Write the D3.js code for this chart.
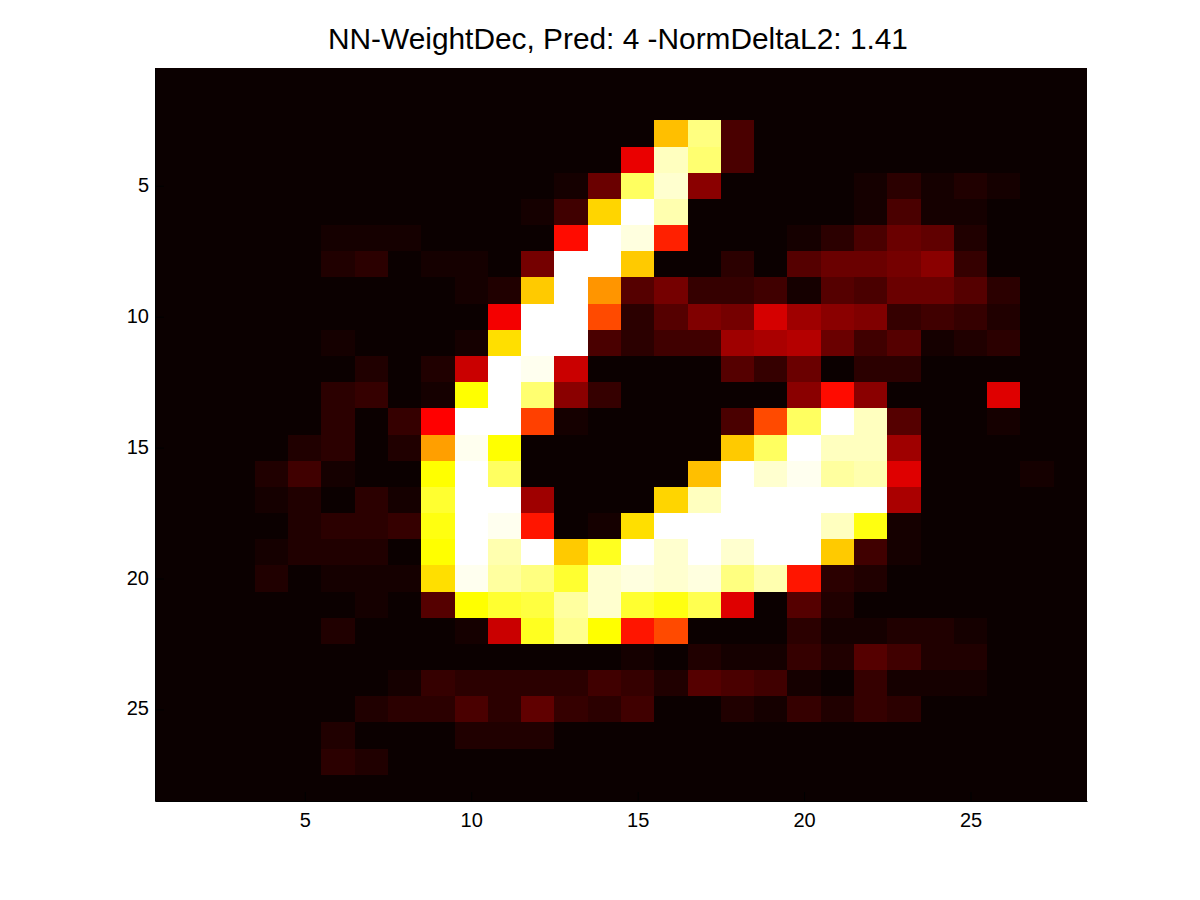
<!DOCTYPE html>
<html>
<head>
<meta charset="utf-8">
<script src="https://d3js.org/d3.v7.min.js"></script>
<style>
	html, body { margin: 0; padding: 0; background: #fff; }
	svg { display: block; }
</style>
</head>
<body>
<div id="heatmap"></div>
<script>
const titleText = "NN-WeightDec, Pred: 4 -NormDeltaL2: 1.41";
const xTicks = [5, 10, 15, 20, 25];
const yTicks = [5, 10, 15, 20, 25];

// colormap level (0-63) of each cell, one array per row
const levels = [
	[0,0,0,0,0,0,0,0,0,0,0,0,0,0,0,0,0,0,0,0,0,0,0,0,0,0,0,0],
	[0,0,0,0,0,0,0,0,0,0,0,0,0,0,0,0,0,0,0,0,0,0,0,0,0,0,0,0],
	[0,0,0,0,0,0,0,0,0,0,0,0,0,0,0,41,55,6,0,0,0,0,0,0,0,0,0,0],
	[0,0,0,0,0,0,0,0,0,0,0,0,0,0,21,59,54,6,0,0,0,0,0,0,0,0,0,0],
	[0,0,0,0,0,0,0,0,0,0,0,0,1,9,53,60,12,0,0,0,0,1,3,1,2,1,0,0],
	[0,0,0,0,0,0,0,0,0,0,0,1,5,43,63,58,0,0,0,0,0,1,6,1,1,0,0,0],
	[0,0,0,0,0,1,1,1,0,0,0,0,24,63,61,26,0,0,0,1,3,6,9,8,2,0,0,0],
	[0,0,0,0,0,2,3,0,1,1,0,10,63,63,42,0,0,3,0,7,9,9,10,12,4,0,0,0],
	[0,0,0,0,0,0,0,0,0,1,2,42,63,37,7,10,4,4,5,1,7,6,9,9,7,3,0,0],
	[0,0,0,0,0,0,0,0,0,0,22,63,63,30,3,7,11,10,19,14,12,11,4,5,4,2,0,0],
	[0,0,0,0,0,1,0,0,0,1,44,63,63,6,3,5,5,14,15,16,9,5,7,1,2,3,0,0],
	[0,0,0,0,0,0,2,0,2,18,63,62,18,0,0,0,0,7,4,9,0,3,3,0,0,0,0,0],
	[0,0,0,0,0,3,4,0,1,47,63,54,12,4,0,0,0,0,0,12,24,12,0,0,0,20,0,0],
	[0,0,0,0,0,3,0,4,23,63,63,29,1,0,0,0,0,6,30,53,63,59,7,0,0,1,0,0],
	[0,0,0,0,2,3,0,2,38,62,47,0,0,0,0,0,0,42,53,63,59,59,14,0,0,0,0,0],
	[0,0,0,2,5,1,0,0,47,63,53,0,0,0,0,0,41,63,60,62,57,58,20,0,0,0,1,0],
	[0,0,0,1,2,0,3,1,50,63,63,14,0,0,0,43,59,63,63,63,63,63,15,0,0,0,0,0],
	[0,0,0,0,2,3,3,4,48,63,62,25,0,1,44,63,63,63,63,63,59,48,1,0,0,0,0,0],
	[0,0,0,1,2,2,2,0,47,63,58,63,42,49,63,60,63,60,63,63,42,5,1,0,0,0,0,0],
	[0,0,0,2,0,1,1,1,44,62,57,55,50,60,61,60,61,55,58,25,3,2,0,0,0,0,0,0],
	[0,0,0,0,0,0,1,0,7,47,50,51,57,60,50,48,52,20,0,7,2,0,0,0,0,0,0,0],
	[0,0,0,0,0,2,0,0,0,1,18,49,56,47,25,30,0,0,0,3,1,1,2,2,1,0,0,0],
	[0,0,0,0,0,0,0,0,0,0,0,0,0,0,1,0,2,1,1,4,2,7,5,2,2,0,0,0],
	[0,0,0,0,0,0,0,1,4,3,3,3,3,5,4,2,7,6,5,1,0,4,1,1,1,0,0,0],
	[0,0,0,0,0,0,2,3,3,6,3,8,4,3,5,0,0,2,1,4,2,4,3,0,0,0,0,0],
	[0,0,0,0,0,2,0,0,0,2,2,2,0,0,0,0,0,0,0,0,0,0,0,0,0,0,0,0],
	[0,0,0,0,0,3,2,0,0,0,0,0,0,0,0,0,0,0,0,0,0,0,0,0,0,0,0,0],
	[0,0,0,0,0,0,0,0,0,0,0,0,0,0,0,0,0,0,0,0,0,0,0,0,0,0,0,0],
];

const width = 1200;
const height = 900;
const marginLeft = 155;
const marginRight = 113;
const marginTop = 68;
const marginBottom = 99;

const xScale = d3.scaleLinear().domain([0.5, 28.5]).range([marginLeft, width - marginRight]);
const yScale = d3.scaleLinear().domain([0.5, 28.5]).range([marginTop, height - marginBottom]);

// same stops as the "hot" colormap with 64 levels
const colorScale = d3.scaleLinear()
	.domain([-1, 23, 47, 63])
	.range(["#000000", "#ff0000", "#ffff00", "#ffffff"]);

const cells = levels.flatMap((row, r) => row.map((level, c) => ({ row: r + 1, col: c + 1, level })));

const svg = d3.select("#heatmap").append("svg")
	.attr("width", width)
	.attr("height", height);

svg.append("g")
	.attr("shape-rendering", "crispEdges")
	.selectAll("rect")
	.data(cells)
	.enter()
	.append("rect")
	.attr("x", (d) => xScale(d.col - 0.5))
	.attr("y", (d) => yScale(d.row - 0.5))
	.attr("width", (d) => xScale(d.col + 0.5) - xScale(d.col - 0.5))
	.attr("height", (d) => yScale(d.row + 0.5) - yScale(d.row - 0.5))
	.attr("fill", (d) => colorScale(d.level));

const styleAxis = (g) => {
	g.selectAll("text")
		.style("font-family", "'Liberation Sans', Arial, sans-serif")
		.style("font-size", "20px")
		.style("fill", "#000");
	g.selectAll("line").attr("stroke", "#000");
	g.select(".domain").attr("stroke", "#000");
};

svg.append("g")
	.attr("transform", `translate(0,${height - marginBottom})`)
	.call(d3.axisBottom(xScale).tickValues(xTicks).tickSizeInner(-9).tickSizeOuter(0).tickPadding(12))
	.call(styleAxis);

svg.append("g")
	.attr("transform", `translate(${marginLeft},0)`)
	.call(d3.axisLeft(yScale).tickValues(yTicks).tickSizeInner(-9).tickSizeOuter(0).tickPadding(6))
	.call(styleAxis)
	.call((g) => g.selectAll("text").attr("dy", "0.28em"));

svg.append("text")
	.attr("x", 618)
	.attr("y", 49)
	.attr("text-anchor", "middle")
	.style("font-family", "'Liberation Sans', Arial, sans-serif")
	.style("font-size", "29.85px")
	.style("fill", "#000")
	.text(titleText);
</script>
</body>
</html>
